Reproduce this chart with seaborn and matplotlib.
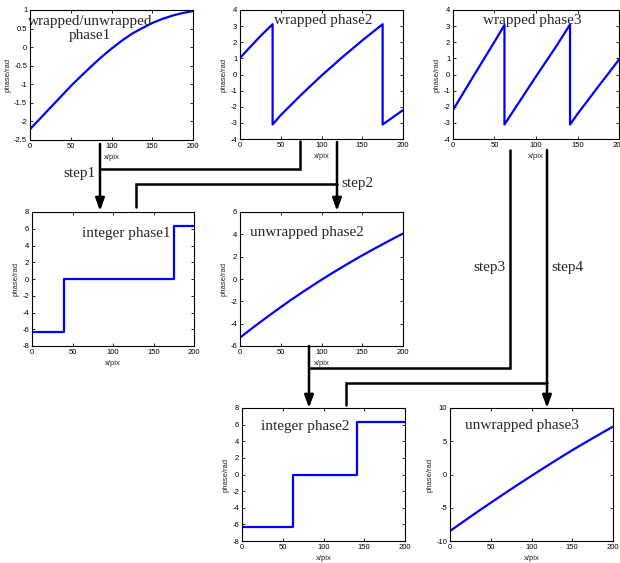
import matplotlib
matplotlib.use("Agg")
import matplotlib.pyplot as plt
import seaborn as sns

# --- data ---
x_smooth = [0, 12.5, 25, 37.5, 50, 62.5, 75, 87.5, 100, 112.5, 125, 137.5,
            150, 162.5, 175, 187.5, 200]

# phase1 (wrapped == unwrapped)
phase1 = [-2.21, -1.92, -1.63, -1.34, -1.05, -0.78, -0.52, -0.27, -0.04,
          0.17, 0.36, 0.51, 0.65, 0.76, 0.85, 0.92, 0.97]

# wrapped phase2 (sawtooth, jumps at x=40 and x=175)
wrapped2_x = [0, 25, 40, 40, 50, 75, 100, 125, 150, 175, 175, 200]
wrapped2_y = [1.03, 2.38, 3.12, -3.1, -2.52, -1.26, -0.07, 1.05, 2.11, 3.12, -3.1, -2.21]

# wrapped phase3 (jumps at x=62 and x=141)
wrapped3_x = [0, 25, 50, 62, 62, 75, 100, 125, 141, 141, 150, 175, 200]
wrapped3_y = [-2.2, -0.07, 2.03, 3.07, -3.1, -2.08, -0.12, 1.8, 3.1, -3.1, -2.45, -0.75, 0.92]

# integer phases (multiples of 2*pi)
int1_x = [0, 40, 40, 175, 175, 200]
int1_y = [-6.28, -6.28, 0, 0, 6.28, 6.28]
int2_x = [0, 62, 62, 141, 141, 200]
int2_y = [-6.28, -6.28, 0, 0, 6.28, 6.28]

# unwrapped phases
unwrapped2 = [-5.25, -4.54, -3.85, -3.18, -2.52, -1.88, -1.26, -0.66, -0.07,
              0.50, 1.05, 1.59, 2.11, 2.62, 3.11, 3.60, 4.07]
unwrapped3 = [-8.5, -7.42, -6.35, -5.29, -4.25, -3.22, -2.2, -1.19, -0.2,
              0.78, 1.75, 2.71, 3.65, 4.56, 5.45, 6.33, 7.2]

# --- layout helpers ---
W, H = 620, 563
fig = plt.figure(figsize=(W / 100, H / 100), dpi=100)
sns.set_style("ticks")
plt.rcParams["font.family"] = ["Liberation Sans", "DejaVu Sans"]
plt.rcParams["xtick.direction"] = "in"
plt.rcParams["ytick.direction"] = "in"


def make_ax(left, top, right, bottom):
    return fig.add_axes([left / W, 1 - bottom / H, (right - left) / W, (bottom - top) / H])


def panel(box, xs, ys, ylim, yticks, title, tpos):
    ax = make_ax(*box)
    sns.lineplot(x=xs, y=ys, sort=False, estimator=None, color="blue",
                 linewidth=1.6, ax=ax)
    ax.set_xlim(0, 200)
    ax.set_ylim(*ylim)
    ax.set_xticks([0, 50, 100, 150, 200])
    ax.set_yticks(yticks)
    ax.set_yticklabels([f"{t:g}" for t in yticks])
    ax.tick_params(labelsize=5.5, length=2.5, width=0.6, pad=2,
                   top=True, right=True, colors="black")
    for s in ax.spines.values():
        s.set_linewidth(0.8)
        s.set_color("black")
    ax.set_xlabel("x/pix", fontsize=5.5, labelpad=3)
    ax.set_ylabel("phase/rad", fontsize=5.5, labelpad=2)
    ax.text(tpos[0], tpos[1], title, transform=ax.transAxes, ha="center",
            va="center", fontsize=11, family="Liberation Serif",
            linespacing=1.1)
    return ax


panel((30, 10, 193, 140), x_smooth, phase1, (-2.5, 1),
      [-2.5, -2, -1.5, -1, -0.5, 0, 0.5, 1], "wrapped/unwrapped\nphase1", (0.37, 0.86))
panel((240, 10, 403, 139), wrapped2_x, wrapped2_y, (-4, 4),
      [-4, -3, -2, -1, 0, 1, 2, 3, 4], "wrapped phase2", (0.51, 0.92))
panel((453, 10, 619, 139), wrapped3_x, wrapped3_y, (-4, 4),
      [-4, -3, -2, -1, 0, 1, 2, 3, 4], "wrapped phase3", (0.48, 0.92))
panel((32, 212, 194, 346), int1_x, int1_y, (-8, 8),
      [-8, -6, -4, -2, 0, 2, 4, 6, 8], "integer phase1", (0.58, 0.84))
panel((240, 212, 403, 346), x_smooth, unwrapped2, (-6, 6),
      [-6, -4, -2, 0, 2, 4, 6], "unwrapped phase2", (0.41, 0.85))
panel((242, 408, 405, 541), int2_x, int2_y, (-8, 8),
      [-8, -6, -4, -2, 0, 2, 4, 6, 8], "integer phase2", (0.39, 0.86))
panel((450, 408, 613, 541), x_smooth, unwrapped3, (-10, 10),
      [-10, -5, 0, 5, 10], "unwrapped phase3", (0.44, 0.87))

# --- connector overlay in pixel coordinates ---
ov = fig.add_axes([0, 0, 1, 1], zorder=10)
ov.set_xlim(0, W)
ov.set_ylim(H, 0)
ov.axis("off")
ov.patch.set_alpha(0)

lw = 1.8
paths = [
    [(300, 141), (300, 169), (100, 169)],
    [(136, 207), (136, 184), (337, 184)],
    [(510, 150), (510, 368), (309, 368)],
    [(346, 405), (346, 383), (547, 383)],
]
for p in paths:
    ov.plot([q[0] for q in p], [q[1] for q in p], color="black", lw=lw,
            solid_joinstyle="miter")

arrows = [(100, 144, 211), (337, 142, 211), (309, 346, 408), (547, 150, 408)]
for x, y0, y1 in arrows:
    ov.annotate("", xy=(x, y1), xytext=(x, y0),
                arrowprops=dict(arrowstyle="-|>,head_length=0.75,head_width=0.27",
                                color="black", lw=lw, shrinkA=0, shrinkB=0))

step_font = dict(fontsize=11, family="Liberation Serif", va="center")
ov.text(96, 173, "step1", ha="right", **step_font)
ov.text(341, 184, "step2", ha="left", **step_font)
ov.text(506, 268, "step3", ha="right", **step_font)
ov.text(551, 268, "step4", ha="left", **step_font)

fig.savefig("out.png", dpi=100)
